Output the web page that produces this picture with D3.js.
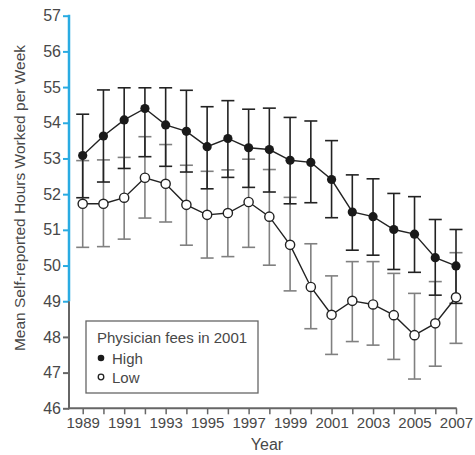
<!DOCTYPE html>
<html>
<head>
<meta charset="utf-8">
<script src="https://cdn.jsdelivr.net/npm/d3@7"></script>
<style>
  html, body { margin: 0; padding: 0; background: #fff; }
  svg { display: block; font-family: "Liberation Sans", Arial, sans-serif; }
</style>
</head>
<body>
<svg id="chart" width="475" height="455"></svg>
<script>
const years = [1989,1990,1991,1992,1993,1994,1995,1996,1997,1998,1999,2000,2001,2002,2003,2004,2005,2006,2007];
const highMean  = [53.08,53.63,54.08,54.40,53.94,53.76,53.33,53.56,53.30,53.25,52.95,52.89,52.41,51.50,51.37,51.01,50.88,50.22,49.99];
const highLower = [51.90,52.34,52.72,53.05,52.78,52.62,52.15,52.47,52.19,52.06,51.73,51.76,51.34,50.43,50.29,49.89,49.81,49.17,48.94];
const highUpper = [54.24,54.92,54.98,54.98,54.98,54.91,54.45,54.62,54.38,54.41,54.15,54.05,53.50,52.54,52.43,52.02,51.93,51.29,51.01];
const lowMean   = [51.73,51.73,51.90,52.46,52.29,51.70,51.42,51.47,51.78,51.37,50.58,49.40,48.62,49.01,48.91,48.61,48.05,48.38,49.11];
const lowLower  = [50.51,50.53,50.74,51.33,51.22,50.57,50.21,50.25,50.51,50.01,49.29,48.23,47.51,47.87,47.77,47.37,46.82,47.18,47.82];
const lowUpper  = [52.94,52.96,53.03,53.61,53.39,52.81,52.64,52.68,52.98,52.69,51.91,50.61,49.71,50.11,50.11,49.78,49.22,49.55,50.36];
const yTicks = [46,47,48,49,50,51,52,53,54,55,56,57];
const xLabelYears = [1989,1991,1993,1995,1997,1999,2001,2003,2005,2007];
const legendTitle = "Physician fees in 2001";
const seriesNames = ["High", "Low"];
const xTitle = "Year";
const yTitle = "Mean Self-reported Hours Worked per Week";

const svg = d3.select("#chart");
const axisX0 = 69;
const x = d3.scaleLinear().domain([1989, 2007]).range([82.7, 456]);
const y = d3.scaleLinear().domain([46, 57]).range([408.3, 15.7]);

const cyan = "#29abe2";
const axisGray = "#666";
const textGray = "#484848";

// Y axis
const yAxis = svg.append("g").attr("transform", `translate(${axisX0},0)`)
  .call(d3.axisLeft(y).tickValues(yTicks).tickSize(6).tickPadding(2).tickFormat(d3.format("d")));
yAxis.select(".domain").remove();
yAxis.selectAll(".tick line").attr("stroke", d => d >= 49 ? cyan : axisGray).attr("stroke-width", 2);
yAxis.selectAll(".tick text").attr("fill", textGray).style("font-size", "16px").style("font-family", "Liberation Sans, Arial, sans-serif");
yAxis.append("line").attr("x1", 0).attr("x2", 0).attr("y1", y(57) - 1).attr("y2", y(49)).attr("stroke", cyan).attr("stroke-width", 2.5);
yAxis.append("line").attr("x1", 0).attr("x2", 0).attr("y1", y(49)).attr("y2", y(46) + 1).attr("stroke", axisGray).attr("stroke-width", 2);

// X axis
const xAxis = svg.append("g").attr("transform", `translate(0,${y(46)})`)
  .call(d3.axisBottom(x).tickValues(years).tickSize(6).tickPadding(3)
    .tickFormat(d => xLabelYears.includes(d) ? String(d) : ""));
xAxis.select(".domain").remove();
xAxis.selectAll(".tick line").attr("stroke", axisGray).attr("stroke-width", 1.5);
xAxis.selectAll(".tick text").attr("fill", textGray).style("font-size", "15px").style("font-family", "Liberation Sans, Arial, sans-serif");
xAxis.append("line").attr("x1", axisX0 - 1).attr("x2", x(2007) + 0.75).attr("y1", 0).attr("y2", 0).attr("stroke", axisGray).attr("stroke-width", 2);

// Axis titles
svg.append("text").attr("x", 267).attr("y", 450).attr("text-anchor", "middle")
  .attr("fill", textGray).style("font-size", "16px").text(xTitle);
svg.append("text").attr("transform", "translate(25,198) rotate(-90)").attr("text-anchor", "middle")
  .attr("fill", textGray).style("font-size", "15.5px").text(yTitle);

const capHalf = 6.5;
function errorBars(mean, lo, hi, color, width) {
  const g = svg.append("g");
  years.forEach((yr, i) => {
    const cx = x(yr);
    g.append("line").attr("x1", cx).attr("x2", cx).attr("y1", y(lo[i])).attr("y2", y(hi[i]))
      .attr("stroke", color).attr("stroke-width", width);
    g.append("line").attr("x1", cx - capHalf).attr("x2", cx + capHalf).attr("y1", y(lo[i])).attr("y2", y(lo[i]))
      .attr("stroke", color).attr("stroke-width", width);
    g.append("line").attr("x1", cx - capHalf).attr("x2", cx + capHalf).attr("y1", y(hi[i])).attr("y2", y(hi[i]))
      .attr("stroke", color).attr("stroke-width", width);
  });
}
errorBars(lowMean, lowLower, lowUpper, "#808080", 1.6);
errorBars(highMean, highLower, highUpper, "#222", 1.6);

const line = d3.line().x((d, i) => x(years[i])).y(d => y(d));
svg.append("path").datum(highMean).attr("d", line).attr("fill", "none").attr("stroke", "#222").attr("stroke-width", 1.4);
svg.append("path").datum(lowMean).attr("d", line).attr("fill", "none").attr("stroke", "#222").attr("stroke-width", 1.4);

svg.append("g").selectAll("circle").data(lowMean).join("circle")
  .attr("cx", (d, i) => x(years[i])).attr("cy", d => y(d)).attr("r", 4.6)
  .attr("fill", "#fff").attr("stroke", "#222").attr("stroke-width", 1.4);
svg.append("g").selectAll("circle").data(highMean).join("circle")
  .attr("cx", (d, i) => x(years[i])).attr("cy", d => y(d)).attr("r", 4.6)
  .attr("fill", "#1a1a1a");

// Legend
const lg = svg.append("g");
lg.append("rect").attr("x", 86).attr("y", 321).attr("width", 172).attr("height", 72)
  .attr("fill", "#fff").attr("stroke", "#666").attr("stroke-width", 1.3);
lg.append("text").attr("x", 97).attr("y", 343).attr("fill", textGray).style("font-size", "15px").text(legendTitle);
lg.append("circle").attr("cx", 101).attr("cy", 358).attr("r", 3.3).attr("fill", "#1a1a1a");
lg.append("text").attr("x", 112).attr("y", 363.5).attr("fill", textGray).style("font-size", "15px").text(seriesNames[0]);
lg.append("circle").attr("cx", 101).attr("cy", 377).attr("r", 2.8).attr("fill", "#fff").attr("stroke", "#222").attr("stroke-width", 1.3);
lg.append("text").attr("x", 112).attr("y", 382.5).attr("fill", textGray).style("font-size", "15px").text(seriesNames[1]);
</script>
</body>
</html>
